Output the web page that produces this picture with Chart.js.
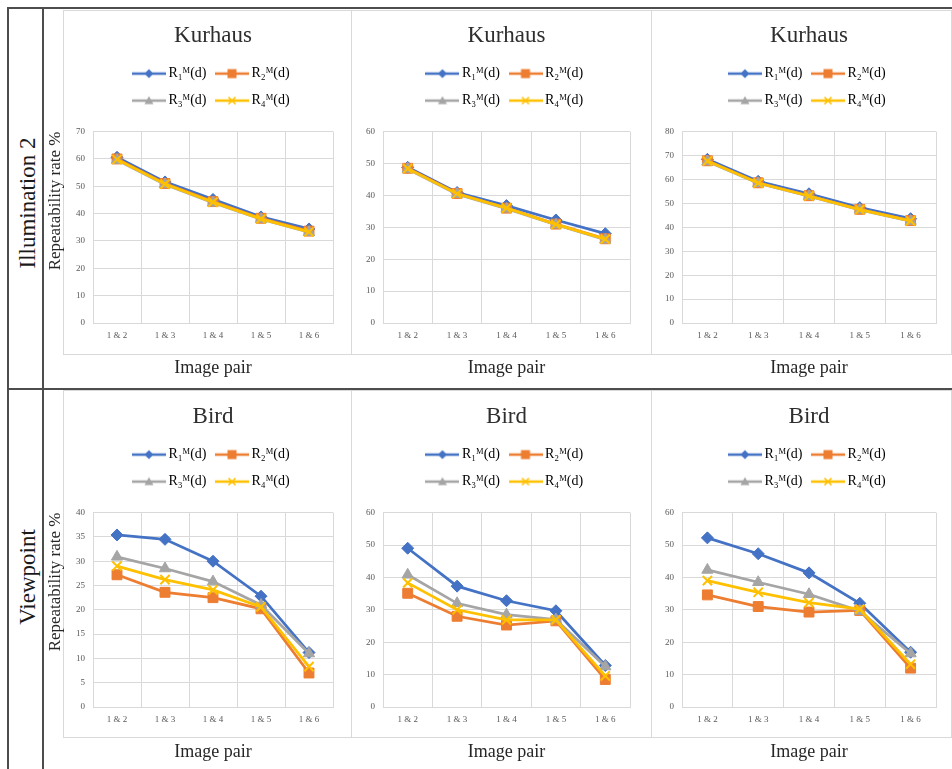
<!DOCTYPE html>
<html>
<head>
<meta charset="utf-8">
<title>Repeatability rate</title>
<script src="https://cdn.jsdelivr.net/npm/chart.js@4.4.1/dist/chart.umd.min.js"></script>
<style>
  body { margin: 0; background: #fff; }
  #page { position: relative; width: 952px; height: 769px; overflow: hidden; background: #fff; font-family: "Liberation Serif", "Times New Roman", serif; }
  .rule { position: absolute; background: #4d4d4d; }
  .box { position: absolute; border: 1px solid #d9d9d9; box-sizing: border-box; }
  .rowLabel { position: absolute; white-space: nowrap; font-size: 23px; color: #1a1a1a; transform: translate(-50%, -50%) rotate(-90deg); }
  canvas { position: absolute; }
</style>
</head>
<body>
<div id="page">
  <div class="box" style="left:63px;top:10px;width:289px;height:345px"></div>
  <div class="box" style="left:351px;top:10px;width:301px;height:345px"></div>
  <div class="box" style="left:651px;top:10px;width:301px;height:345px"></div>
  <div class="box" style="left:63px;top:390px;width:289px;height:348px"></div>
  <div class="box" style="left:351px;top:390px;width:301px;height:348px"></div>
  <div class="box" style="left:651px;top:390px;width:301px;height:348px"></div>

  <div class="rule" style="left:7px;top:7px;width:945px;height:2px"></div>
  <div class="rule" style="left:7px;top:7px;width:2px;height:762px"></div>
  <div class="rule" style="left:42px;top:7px;width:2px;height:762px"></div>
  <div class="rule" style="left:7px;top:388px;width:945px;height:2px"></div>

  <div class="rowLabel" style="left:28px;top:203px">Illumination 2</div>
  <div class="rowLabel" style="left:28px;top:577px">Viewpoint</div>
</div>
<script>
const pairs = ["1 & 2", "1 & 3", "1 & 4", "1 & 5", "1 & 6"];
const seriesLabels = ["R₁ᴹ(d)", "R₂ᴹ(d)", "R₃ᴹ(d)", "R₄ᴹ(d)"];

// Illumination 2 - Kurhaus (left, middle, right)
const kurhausA_R1 = [60.6, 51.6, 45.2, 38.8, 34.4];
const kurhausA_R2 = [60.0, 51.0, 44.4, 38.3, 33.6];
const kurhausA_R3 = [59.6, 50.7, 44.0, 38.0, 33.2];
const kurhausA_R4 = [59.8, 50.8, 44.2, 38.1, 33.3];

const kurhausB_R1 = [48.8, 40.9, 36.8, 32.3, 28.0];
const kurhausB_R2 = [48.5, 40.6, 36.0, 31.0, 26.4];
const kurhausB_R3 = [48.3, 40.4, 35.8, 30.8, 26.1];
const kurhausB_R4 = [48.4, 40.5, 36.0, 30.9, 26.3];

const kurhausC_R1 = [68.4, 59.2, 54.0, 48.2, 43.6];
const kurhausC_R2 = [67.8, 58.6, 53.2, 47.5, 42.8];
const kurhausC_R3 = [67.5, 58.4, 53.0, 47.3, 42.6];
const kurhausC_R4 = [67.7, 58.5, 53.1, 47.4, 42.7];

// Viewpoint - Bird (left, middle, right)
const birdA_R1 = [35.4, 34.5, 30.0, 22.8, 11.2];
const birdA_R2 = [27.2, 23.6, 22.5, 20.2, 7.0];
const birdA_R3 = [30.9, 28.5, 25.8, 21.0, 11.0];
const birdA_R4 = [29.0, 26.2, 24.1, 20.6, 8.3];

const birdB_R1 = [49.0, 37.3, 32.8, 29.7, 12.8];
const birdB_R2 = [35.1, 28.0, 25.3, 26.6, 8.5];
const birdB_R3 = [40.8, 32.0, 28.5, 27.0, 12.5];
const birdB_R4 = [38.3, 30.0, 26.9, 26.9, 9.6];

const birdC_R1 = [52.2, 47.3, 41.4, 32.0, 16.9];
const birdC_R2 = [34.6, 31.0, 29.3, 29.8, 12.0];
const birdC_R3 = [42.3, 38.5, 34.8, 29.6, 16.5];
const birdC_R4 = [39.0, 35.4, 32.2, 30.2, 13.2];

// y axis ranges per panel
const yMaxes = [70, 60, 80, 40, 60, 60];
const ySteps = [10, 10, 10, 5, 10, 10];

const seriesColors = ["#4472C4", "#ED7D31", "#A5A5A5", "#FFC000"];
const seriesMarkers = ["rectRot", "rect", "triangle", "crossRot"];
const markerRadius = [6, 7, 6.5, 6.5];

const serif = "'Liberation Serif', 'Times New Roman', 'DejaVu Serif', serif";
const gridColor = "#d9d9d9";

const panels = [
    { title: "Kurhaus", series: [kurhausA_R1, kurhausA_R2, kurhausA_R3, kurhausA_R4] },
    { title: "Kurhaus", series: [kurhausB_R1, kurhausB_R2, kurhausB_R3, kurhausB_R4] },
    { title: "Kurhaus", series: [kurhausC_R1, kurhausC_R2, kurhausC_R3, kurhausC_R4] },
    { title: "Bird", series: [birdA_R1, birdA_R2, birdA_R3, birdA_R4] },
    { title: "Bird", series: [birdB_R1, birdB_R2, birdB_R3, birdB_R4] },
    { title: "Bird", series: [birdC_R1, birdC_R2, birdC_R3, birdC_R4] }
];

// canvas placement per column / row
const colLeft = [44, 352, 652];
const colWidth = [306, 298, 300];
const yAxisWidth = [49, 31, 30];
const padRight = [17, 20, 16];
const rowTop = [10, 391];
const rowHeight = [375, 378];

// small line + marker picture for the legend
function legendIcon(i) {
    let c = document.createElement("canvas");
    c.width = 34;
    c.height = 12;
    let g = c.getContext("2d");
    g.strokeStyle = seriesColors[i];
    g.fillStyle = seriesColors[i];
    g.lineWidth = 2.5;
    g.beginPath();
    g.moveTo(0, 6);
    g.lineTo(34, 6);
    g.stroke();
    g.beginPath();
    let m = seriesMarkers[i];
    if (m === "rectRot") {
        g.moveTo(17, 1.5); g.lineTo(21.5, 6); g.lineTo(17, 10.5); g.lineTo(12.5, 6);
        g.closePath(); g.fill();
    } else if (m === "rect") {
        g.fillRect(12.5, 1.5, 9, 9);
    } else if (m === "triangle") {
        g.moveTo(17, 1.5); g.lineTo(21.5, 9.5); g.lineTo(12.5, 9.5);
        g.closePath(); g.fill();
    } else {
        g.lineWidth = 1.6;
        g.moveTo(13.5, 2.5); g.lineTo(20.5, 9.5);
        g.moveTo(20.5, 2.5); g.lineTo(13.5, 9.5);
        g.stroke();
    }
    return c;
}
const legendIcons = seriesColors.map((c, i) => legendIcon(i));

const page = document.getElementById("page");

panels.forEach((p, idx) => {
    let col = idx % 3;
    let row = Math.floor(idx / 3);

    let canvas = document.createElement("canvas");
    canvas.width = colWidth[col];
    canvas.height = rowHeight[row];
    canvas.style.left = colLeft[col] + "px";
    canvas.style.top = rowTop[row] + "px";
    page.appendChild(canvas);

    new Chart(canvas, {
        type: "line",
        data: {
            labels: pairs,
            datasets: p.series.map((vals, i) => ({
                label: seriesLabels[i],
                data: vals,
                borderColor: seriesColors[i],
                backgroundColor: seriesColors[i],
                borderWidth: 2.75,
                pointStyle: seriesMarkers[i],
                pointRadius: markerRadius[i],
                pointBorderWidth: i === 3 ? 2 : 1,
                tension: 0,
                order: 4 - i,
                xAxisID: "x",
                yAxisID: "y"
            }))
        },
        options: {
            responsive: false,
            animation: false,
            layout: { padding: { left: 0, right: padRight[col], top: 0, bottom: 0 } },
            plugins: {
                tooltip: { enabled: false },
                title: {
                    display: true,
                    text: p.title,
                    fullSize: false,
                    color: "#2e2e2e",
                    font: { family: serif, size: 23, weight: "normal" },
                    padding: { top: 12, bottom: 4 }
                },
                legend: {
                    position: "top",
                    fullSize: false,
                    labels: {
                        usePointStyle: true,
                        pointStyleWidth: 25,
                        padding: 13,
                        color: "#404040",
                        font: { family: serif, size: 14 },
                        generateLabels(chart) {
                            return chart.data.datasets.map((ds, i) => ({
                                text: ds.label,
                                pointStyle: legendIcons[i],
                                fillStyle: ds.borderColor,
                                strokeStyle: ds.borderColor,
                                lineWidth: 1,
                                hidden: false,
                                datasetIndex: i
                            }));
                        }
                    }
                }
            },
            scales: {
                x: {
                    offset: true,
                    grid: { color: gridColor, offset: true, drawTicks: false },
                    border: { color: gridColor },
                    ticks: { color: "#595959", font: { family: serif, size: 9 }, padding: 7, maxRotation: 0, autoSkip: false },
                    title: {
                        display: true,
                        text: "Image pair",
                        color: "#262626",
                        font: { family: serif, size: 18 },
                        padding: { top: 0, bottom: 6 }
                    },
                    afterFit(s) { s.height = 62; }
                },
                spacer: {
                    type: "category",
                    position: "top",
                    grid: { display: false },
                    border: { display: false },
                    ticks: { display: false },
                    afterFit(s) { s.height = 14; }
                },
                y: {
                    min: 0,
                    max: yMaxes[idx],
                    grid: { color: gridColor, drawTicks: false },
                    border: { color: gridColor },
                    ticks: { stepSize: ySteps[idx], color: "#595959", font: { family: serif, size: 9 }, padding: 8 },
                    title: {
                        display: col === 0,
                        text: "Repeatability rate %",
                        align: "end",
                        color: "#262626",
                        font: { family: serif, size: 17 },
                        padding: { top: 1, bottom: 0 }
                    },
                    afterFit(s) { s.width = yAxisWidth[col]; }
                }
            }
        }
    });
});
</script>
</body>
</html>
